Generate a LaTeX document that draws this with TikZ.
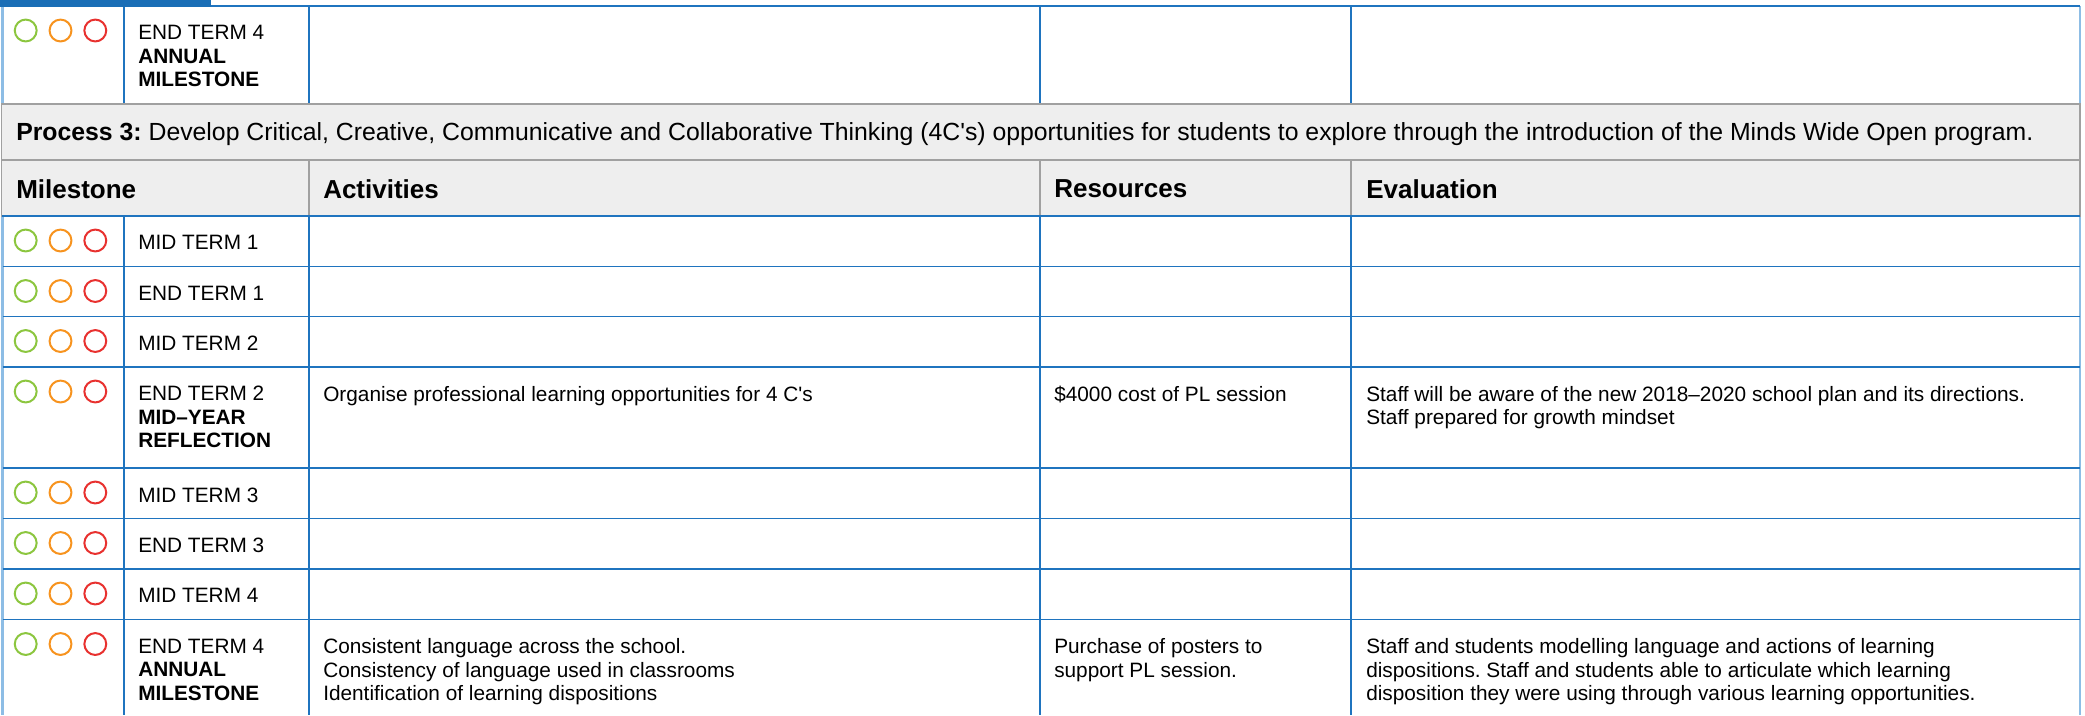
\documentclass[tikz,border=0pt]{standalone}
\usepackage{fontspec}
\setmainfont{Liberation Sans}
\frenchspacing
\definecolor{gridblue}{HTML}{1F74BF}
\definecolor{lightblue}{HTML}{8DBDE5}
\definecolor{barblue}{HTML}{1A6EB6}
\definecolor{bandgray}{HTML}{EEEEEE}
\definecolor{midgray}{HTML}{A0A0A0}
\definecolor{lgreen}{HTML}{8CC63F}
\definecolor{lorange}{HTML}{F7931E}
\definecolor{lred}{HTML}{E8312F}
\newcommand\mylights[2]{%
  \node[light,draw=lgreen] (#1g) at (25.7,#2) {};
  \node[light,draw=lorange] (#1o) at (60.5,#2) {};
  \node[light,draw=lred] (#1r) at (95.3,#2) {};}
\begin{document}
\begin{tikzpicture}[x=0.75pt,y=-0.75pt,
  grid/.style={draw=gridblue,line width=1.1pt},
  outer/.style={draw=lightblue,line width=2.2pt},
  grayline/.style={draw=midgray,line width=1.4pt},
  body/.style={anchor=north west,inner sep=0pt,align=left,font=\fontsize{15.6pt}{17.6pt}\selectfont\frenchspacing},
  head/.style={anchor=west,inner sep=0pt,font=\fontsize{19.5pt}{22pt}\selectfont\bfseries},
  light/.style={circle,inner sep=0pt,minimum size=16.4pt,line width=1.5pt}]
\useasboundingbox (0,0) rectangle (2085,715);
\fill[white] (0,0) rectangle (2085,715);
% outer border
\draw[outer] (2.5,6) -- (2.5,715);
\draw[outer] (2080,6) -- (2080,715);
% grid: horizontal lines
\foreach \yy in {6,216,266.5,316.5,367,468,518.5,569,619.5}
  \draw[grid] (2.5,\yy) -- (2080,\yy);
% grid: vertical lines
\foreach \xx in {124,309,1040,1351} {
  \draw[grid] (\xx,6) -- (\xx,104);
  \draw[grid] (\xx,216) -- (\xx,715);
}
% band and header
\draw[grayline,fill=bandgray] (1.5,104) rectangle (2080,160);
\draw[grayline,fill=bandgray] (1.5,160) rectangle (2080,216);
\foreach \xx in {309,1040,1351}
  \draw[grayline] (\xx,160) -- (\xx,216);
\draw[gridblue,line width=1.1pt] (1.5,216) -- (2080,216);
% top bar
\fill[barblue] (0,0) rectangle (211,6.8);

% lights
\mylights{a}{30.5}
\mylights{b}{240.5}
\mylights{c}{291}
\mylights{d}{341}
\mylights{e}{391.5}
\mylights{f}{492.5}
\mylights{h}{543}
\mylights{i}{593.5}
\mylights{j}{644}

% top row
\node[body] (m0) at (138,25) {END TERM 4\\\textbf{ANNUAL}\\\textbf{MILESTONE}};

% band
\node[anchor=base west,inner sep=0pt,font=\fontsize{18.6pt}{22pt}\selectfont\frenchspacing] (band) at (16,140.5)
  {\textbf{Process 3:} Develop Critical, Creative, Communicative and Collaborative Thinking (4C\textquotesingle s) opportunities for students to explore through the introduction of the Minds Wide Open program.};

% header
\node[head] (hm) at (16,189) {Milestone};
\node[head] (ha) at (323,189) {Activities};
\node[head] (hr) at (1054,189) {Resources};
\node[head] (he) at (1366,189) {Evaluation};

% rows
\node[body] (m1) at (138,235) {MID TERM 1};
\node[body] (m2) at (138,285.5) {END TERM 1};
\node[body] (m3) at (138,335.5) {MID TERM 2};
\node[body] (m4) at (138,386) {END TERM 2\\\textbf{MID–YEAR}\\\textbf{REFLECTION}};
\node[body] (a4) at (323,386) {Organise professional learning opportunities for 4 C\textquotesingle s};
\node[body] (r4) at (1054,386) {\$4000 cost of PL session};
\node[body] (e4) at (1366,386) {Staff will be aware of the new 2018–2020 school plan and its directions.\\Staff prepared for growth mindset};
\node[body] (m5) at (138,487.5) {MID TERM 3};
\node[body] (m6) at (138,537.5) {END TERM 3};
\node[body] (m7) at (138,588) {MID TERM 4};
\node[body] (m8) at (138,638.5) {END TERM 4\\\textbf{ANNUAL}\\\textbf{MILESTONE}};
\node[body] (a8) at (323,638.5) {Consistent language across the school.\\Consistency of language used in classrooms\\Identification of learning dispositions};
\node[body] (r8) at (1054,638.5) {Purchase of posters to\\support PL session.};
\node[body] (e8) at (1366,638.5) {Staff and students modelling language and actions of learning\\dispositions. Staff and students able to articulate which learning\\disposition they were using through various learning opportunities.};
\end{tikzpicture}
\end{document}
